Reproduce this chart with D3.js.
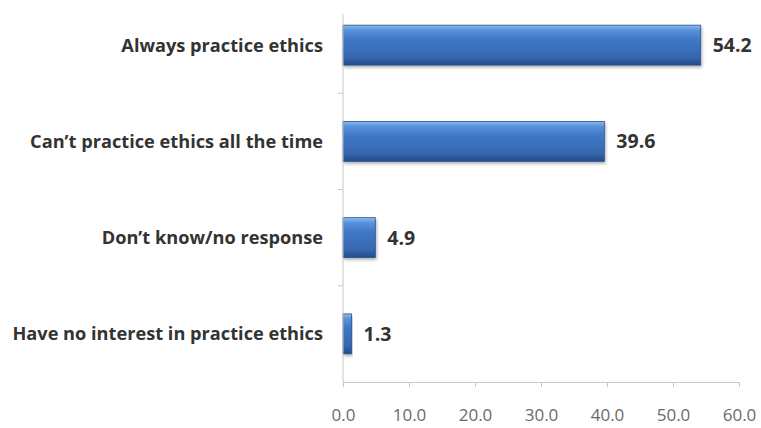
<!DOCTYPE html>
<html>
<head>
<meta charset="utf-8">
<script src="https://cdn.jsdelivr.net/npm/d3@7"></script>
<style>
  body { margin: 0; background: #fff; }
  svg { display: block; }
</style>
</head>
<body>
<script>
const categories = [
  "Always practice ethics",
  "Can\u2019t practice ethics all the time",
  "Don\u2019t know/no response",
  "Have no interest in practice ethics"
];
const values = [54.2, 39.6, 4.9, 1.3];
const xTicks = [0, 10, 20, 30, 40, 50, 60];

const width = 761;
const height = 428;

const svg = d3.select("body")
  .append("svg")
  .attr("width", width)
  .attr("height", height);

const x = d3.scaleLinear().domain([0, 60]).range([343, 739]);
const y = d3.scaleBand().domain(categories).range([-3, 382]).paddingInner(0.585).paddingOuter(0.2925);
const yBand = d3.scaleBand().domain(categories).range([-3, 382]);

const defs = svg.append("defs");
const grad = defs.append("linearGradient")
  .attr("id", "barGrad")
  .attr("x1", 0).attr("y1", 0).attr("x2", 0).attr("y2", 1);
grad.append("stop").attr("offset", "0%").attr("stop-color", "#8cbcef");
grad.append("stop").attr("offset", "12%").attr("stop-color", "#5b93dc");
grad.append("stop").attr("offset", "35%").attr("stop-color", "#3f78c6");
grad.append("stop").attr("offset", "80%").attr("stop-color", "#3568b0");
grad.append("stop").attr("offset", "100%").attr("stop-color", "#244b85");

const shadow = defs.append("filter").attr("id", "shadow")
  .attr("x", "-5%").attr("y", "-20%").attr("width", "115%").attr("height", "160%");
shadow.append("feDropShadow")
  .attr("dx", 1).attr("dy", 2).attr("stdDeviation", 1.5)
  .attr("flood-color", "#000").attr("flood-opacity", 0.3);

// bars
svg.append("g")
  .selectAll("rect")
  .data(values)
  .enter()
  .append("rect")
  .attr("x", x(0))
  .attr("y", (d, i) => y(categories[i]))
  .attr("width", (d) => x(d) - x(0))
  .attr("height", y.bandwidth())
  .attr("fill", "url(#barGrad)")
  .attr("stroke", "#2a5490")
  .attr("stroke-width", 0.8)
  .attr("filter", "url(#shadow)");

// value labels
svg.append("g")
  .selectAll("text")
  .data(values)
  .enter()
  .append("text")
  .attr("x", (d) => x(d) + 12)
  .attr("y", (d, i) => y(categories[i]) + y.bandwidth() / 2)
  .attr("dy", "0.36em")
  .attr("font-family", "'Open Sans', sans-serif")
  .attr("font-weight", "bold")
  .attr("font-size", 19.5)
  .attr("fill", "#333")
  .text((d) => d.toFixed(1));

// category labels
svg.append("g")
  .selectAll("text")
  .data(categories)
  .enter()
  .append("text")
  .attr("x", 323)
  .attr("y", (d) => yBand(d) + yBand.bandwidth() / 2)
  .attr("dy", "0.36em")
  .attr("text-anchor", "end")
  .attr("font-family", "'Open Sans', sans-serif")
  .attr("font-weight", "bold")
  .attr("font-size", 18.2)
  .attr("fill", "#333")
  .text((d) => d);

// y axis line and ticks between categories
svg.append("line")
  .attr("x1", x(0)).attr("x2", x(0))
  .attr("y1", 14).attr("y2", 382)
  .attr("stroke", "#c8c8c8");
svg.append("g")
  .selectAll("line")
  .data(categories.slice(1))
  .enter()
  .append("line")
  .attr("x1", x(0) - 5).attr("x2", x(0))
  .attr("y1", (d) => yBand(d))
  .attr("y2", (d) => yBand(d))
  .attr("stroke", "#c8c8c8");

// x axis
const xAxis = svg.append("g")
  .attr("transform", "translate(0,382)")
  .call(d3.axisBottom(x).tickValues(xTicks).tickSize(5).tickSizeOuter(0).tickPadding(22)
    .tickFormat(d3.format(".1f")));
xAxis.select(".domain").attr("stroke", "#c8c8c8");
xAxis.selectAll(".tick line").attr("stroke", "#c8c8c8");
xAxis.selectAll(".tick text")
  .attr("font-family", "'Open Sans', sans-serif")
  .attr("font-size", 17)
  .attr("fill", "#6a6a6a");
</script>
</body>
</html>
